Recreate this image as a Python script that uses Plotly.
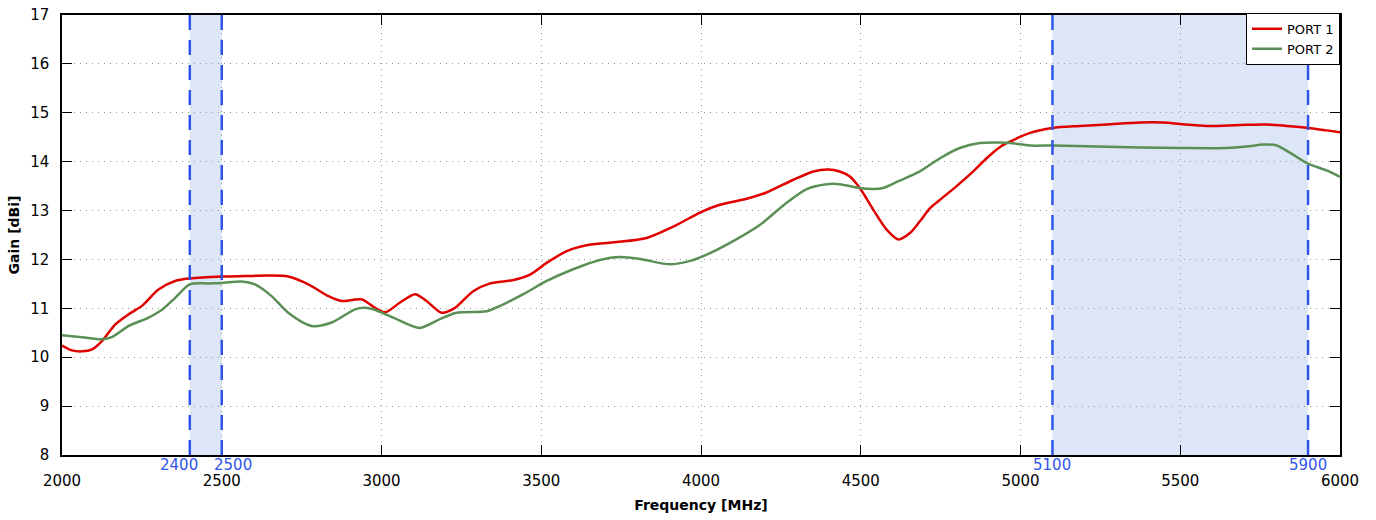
import plotly.graph_objects as go

# ---- data ----
freq_p1 = [2000, 2031, 2063, 2094, 2125, 2167, 2209, 2250, 2303, 2354, 2400, 2500, 2575, 2646, 2708,
           2771, 2834, 2875, 2917, 2940, 2964, 3011, 3058, 3105, 3141, 3188, 3230, 3287, 3340, 3413,
           3465, 3517, 3580, 3642, 3726, 3830, 3913, 4000, 4059, 4143, 4205, 4289, 4352, 4398, 4434,
           4465, 4497, 4539, 4581, 4618, 4654, 4685, 4717, 4748, 4800, 4852, 4894, 4936, 4967, 5030,
           5100, 5186, 5270, 5374, 5447, 5500, 5583, 5687, 5771, 5833, 5900, 5958, 6000]
gain_p1 = [10.24, 10.14, 10.12, 10.16, 10.33, 10.67, 10.88, 11.05, 11.39, 11.56, 11.61, 11.65, 11.66, 11.67, 11.65,
           11.49, 11.25, 11.15, 11.18, 11.18, 11.08, 10.92, 11.12, 11.29, 11.15, 10.91, 11.01, 11.35, 11.51, 11.58,
           11.69, 11.93, 12.17, 12.29, 12.35, 12.44, 12.67, 12.97, 13.12, 13.24, 13.37, 13.63, 13.80, 13.84, 13.80,
           13.70, 13.46, 13.02, 12.61, 12.41, 12.54, 12.78, 13.05, 13.22, 13.50, 13.80, 14.07, 14.30, 14.41, 14.59,
           14.69, 14.73, 14.76, 14.80, 14.80, 14.77, 14.73, 14.75, 14.76, 14.73, 14.69, 14.64, 14.60]

freq_p2 = [2000, 2063, 2125, 2156, 2209, 2271, 2313, 2355, 2400, 2458, 2500, 2562, 2604, 2656, 2708,
           2781, 2844, 2917, 2950, 2974, 3037, 3120, 3183, 3235, 3329, 3371, 3444, 3517, 3600, 3684,
           3746, 3809, 3903, 3966, 4018, 4091, 4185, 4268, 4331, 4393, 4434, 4497, 4539, 4570, 4618,
           4685, 4748, 4810, 4873, 4936, 4967, 5030, 5100, 5238, 5374, 5500, 5645, 5708, 5760, 5802,
           5844, 5900, 5958, 6000]
gain_p2 = [10.45, 10.41, 10.37, 10.41, 10.64, 10.81, 10.97, 11.22, 11.49, 11.51, 11.52, 11.55, 11.49, 11.25, 10.91,
           10.64, 10.71, 10.98, 11.01, 10.98, 10.81, 10.60, 10.78, 10.91, 10.94, 11.05, 11.29, 11.56, 11.80, 11.99,
           12.05, 12.01, 11.90, 11.97, 12.10, 12.34, 12.71, 13.16, 13.44, 13.54, 13.54, 13.46, 13.44, 13.46, 13.60,
           13.80, 14.07, 14.28, 14.38, 14.39, 14.38, 14.33, 14.33, 14.31, 14.29, 14.28, 14.28, 14.31, 14.35, 14.33,
           14.18, 13.96, 13.82, 13.69]

series_names = ["PORT 1", "PORT 2"]
bands = [(2400, 2500), (5100, 5900)]
band_label_freqs = [2400, 2500, 5100, 5900]
band_label_text = ["2400", "2500", "5100", "5900"]
band_label_shift = [-11, 11, 0, 0]
x_ticks = [2000, 2500, 3000, 3500, 4000, 4500, 5000, 5500, 6000]
y_ticks = list(range(8, 18))

RED = "#e00000"
GREEN = "#5a8f56"
BLUE = "#2f55e8"
BAND_FILL = "#dde6f7"
FONT = "DejaVu Sans"

fig = go.Figure()

for lo, hi in bands:
    fig.add_shape(type="rect", xref="x", yref="paper", x0=lo, x1=hi, y0=0, y1=1,
                  fillcolor=BAND_FILL, line_width=0, layer="below")

fig.add_trace(go.Scatter(x=freq_p1, y=gain_p1, mode="lines", name=series_names[0],
                         line=dict(color=RED, width=2.5, shape="spline", smoothing=0.8)))
fig.add_trace(go.Scatter(x=freq_p2, y=gain_p2, mode="lines", name=series_names[1],
                         line=dict(color=GREEN, width=2.5, shape="spline", smoothing=0.8)))

for f in band_label_freqs:
    fig.add_shape(type="line", xref="x", yref="paper", x0=f, x1=f, y0=0, y1=1,
                  line=dict(color=BLUE, width=2.5, dash="15px,10px"), layer="above")

for f, txt, dx in zip(band_label_freqs, band_label_text, band_label_shift):
    fig.add_annotation(x=f, y=0, xref="x", yref="paper", text=txt, showarrow=False,
                       yanchor="top", yshift=0, xshift=dx, borderpad=0,
                       font=dict(family=FONT, size=15, color=BLUE))

axis_common = dict(showline=True, linecolor="black", linewidth=1.5, mirror="allticks",
                   ticks="inside", ticklen=10, tickwidth=1.2, tickcolor="black",
                   showgrid=True, gridcolor="#999999", gridwidth=1, griddash="1px,5px",
                   zeroline=False, automargin=False,
                   tickfont=dict(family=FONT, size=15, color="black"))

fig.update_xaxes(range=[2000, 6000], tickvals=x_ticks, ticktext=[str(v) for v in x_ticks],
                 ticklabelstandoff=11,
                 title=dict(text="<b>Frequency [MHz]</b>", font=dict(family=FONT, size=14, color="black"),
                            standoff=11),
                 **axis_common)
fig.update_yaxes(range=[8, 17], tickvals=y_ticks, ticktext=[str(v) for v in y_ticks],
                 ticklabelstandoff=8,
                 title=dict(text="<b>Gain [dBi]</b>", font=dict(family=FONT, size=14, color="black"),
                            standoff=7),
                 **axis_common)

fig.update_layout(
    width=1376, height=520,
    margin=dict(l=62, r=36, t=15, b=65, autoexpand=False),
    plot_bgcolor="white", paper_bgcolor="white",
    font=dict(family=FONT, color="black"),
    legend=dict(x=1, y=1.005, xanchor="right", yanchor="top", bgcolor="white",
                bordercolor="black", borderwidth=1, font=dict(family=FONT, size=13),
                itemwidth=30, tracegroupgap=0),
    showlegend=True,
)

fig.write_html("out.html", post_script="document.body.style.margin='0';",
               config={"displayModeBar": False})
